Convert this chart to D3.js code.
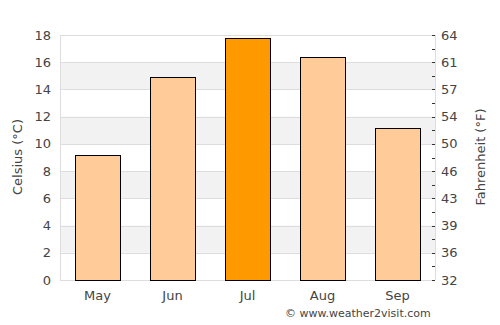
<!DOCTYPE html>
<html><head><meta charset="utf-8">
<script src="https://cdn.jsdelivr.net/npm/d3@7"></script>
<style>body{margin:0;background:#fff;}svg{display:block;font-family:"DejaVu Sans",sans-serif;}</style>
</head><body>
<svg id="c" width="500" height="325"></svg>
<script>
const months = ["May","Jun","Jul","Aug","Sep"];
const celsius = [9.2, 14.9, 17.8, 16.4, 11.2];
const highlight = ["Jul"];
const cTicks = [0,2,4,6,8,10,12,14,16,18];
const fLabels = [32,36,39,43,46,50,54,57,61,64];

const svg = d3.select("#c");
const L=60, R=435, T=35, B=280;
const x = d3.scaleBand().domain(months).range([L,R]).paddingInner(0.4).paddingOuter(0.2);
const y = d3.scaleLinear().domain([0,18]).range([B,T]);

// bands
for (let i=0;i<cTicks.length-1;i++){
  if (i%2===1){
    svg.append("rect").attr("x",L).attr("y",y(cTicks[i+1])).attr("width",R-L).attr("height",y(cTicks[i])-y(cTicks[i+1])).attr("fill","#f2f2f2");
  }
}
// grid lines
svg.append("g").selectAll("line").data(cTicks).join("line")
  .attr("x1",L).attr("x2",R).attr("y1",d=>Math.round(y(d))+0.5).attr("y2",d=>Math.round(y(d))+0.5)
  .attr("stroke","#dddddd");
// border
svg.append("line").attr("x1",L+0.5).attr("x2",L+0.5).attr("y1",T).attr("y2",B).attr("stroke","#dddddd");
svg.append("line").attr("x1",R+0.5).attr("x2",R+0.5).attr("y1",T).attr("y2",B).attr("stroke","#dddddd");

// bars
svg.append("g").selectAll("rect").data(months).join("rect")
  .attr("x",d=>Math.round(x(d))+0.5).attr("width",Math.round(x.bandwidth()))
  .attr("y",(d,i)=>Math.round(y(celsius[i]))+0.5).attr("height",(d,i)=>Math.round(B-y(celsius[i])))
  .attr("fill",d=>highlight.includes(d)?"#ff9900":"#ffcc99")
  .attr("stroke","#000").attr("stroke-width",1);

// left axis labels
svg.append("g").selectAll("text").data(cTicks).join("text")
  .attr("x",51).attr("y",d=>y(d)+4.5).attr("text-anchor","end")
  .attr("font-size",13).attr("fill","#444").text(d=>d);
// right axis ticks (each °C)
const minor = d3.range(0,19,1);
svg.append("g").selectAll("line").data(minor).join("line")
  .attr("x1",R-3).attr("x2",R).attr("y1",d=>Math.round(y(d))+0.5).attr("y2",d=>Math.round(y(d))+0.5)
  .attr("stroke","#333");
svg.append("g").selectAll("text").data(fLabels).join("text")
  .attr("x",441).attr("y",(d,i)=>y(cTicks[i])+4.5).attr("text-anchor","start")
  .attr("font-size",13).attr("fill","#444").text(d=>d);
// x labels
svg.append("g").selectAll("text").data(months).join("text")
  .attr("x",d=>x(d)+x.bandwidth()/2).attr("y",300).attr("text-anchor","middle")
  .attr("font-size",13).attr("fill","#444").text(d=>d);
// titles
svg.append("text").attr("transform","translate(22,157) rotate(-90)").attr("text-anchor","middle")
  .attr("font-size",13).attr("fill","#444").text("Celsius (°C)");
svg.append("text").attr("transform","translate(485,157) rotate(-90)").attr("text-anchor","middle")
  .attr("font-size",13).attr("fill","#444").text("Fahrenheit (°F)");
svg.append("text").attr("x",285).attr("y",317).attr("font-size",11).attr("fill","#444").text("© www.weather2visit.com");
</script>
</body></html>
